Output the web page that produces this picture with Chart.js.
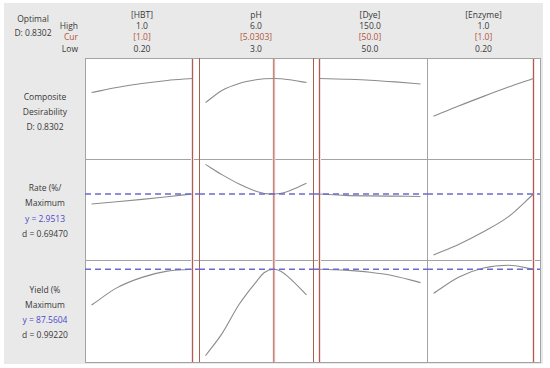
<!DOCTYPE html>
<html><head><meta charset="utf-8">
<script src="https://cdn.jsdelivr.net/npm/chart.js@4.4.1/dist/chart.umd.min.js"></script>
<style>
body{margin:0;width:550px;height:368px;background:#fff;position:relative;overflow:hidden;font-family:"Open Sans",sans-serif;font-size:8.5px;color:#3a3a3a}
.abs{position:absolute}
.t{position:absolute;white-space:nowrap;line-height:1}
.c{transform:translate(-50%,-50%)}
.r{transform:translate(-100%,-50%)}
canvas{position:absolute}
</style></head>
<body>
<div class="abs" style="left:4px;top:3px;width:539px;height:361px;background:#e9e9e9"></div>
<div class="abs" style="left:85px;top:58px;width:454px;height:303px;background:#fff;border:1px solid #a3a3a3"></div>
<div id="lines"></div>
<div id="txt"></div>
<div id="charts"></div>
<script>
// ---- header data ----
const factors = ['[HBT]', 'pH', '[Dye]', '[Enzyme]'];
const highLabels = ['1.0', '6.0', '150.0', '1.0'];
const curLabels = ['[1.0]', '[5.0303]', '[50.0]', '[1.0]'];
const lowLabels = ['0.20', '3.0', '50.0', '0.20'];
const highVals = [1.0, 6.0, 150.0, 1.0];
const lowVals = [0.20, 3.0, 50.0, 0.20];
const curVals = [1.0, 5.0303, 50.0, 1.0];

// ---- response summary ----
const compositeD = 0.8302;
const rateY = 2.9513, rateD = 0.69470;
const yieldY = 87.5604, yieldD = 0.99220;
const rowLabels = [
  ['Composite', 'Desirability', 'D: 0.8302'],
  ['Rate (%/', 'Maximum', 'y = 2.9513', 'd = 0.69470'],
  ['Yield (%', 'Maximum', 'y = 87.5604', 'd = 0.99220']
];

// ---- curve x positions (factor settings) ----
const hbtX = [0.2, 0.4, 0.6, 0.8, 1.0];
const phX = [3.0, 3.5, 4.0, 4.5, 4.75, 5.0303, 5.25, 5.5, 6.0];
const dyeX = [50, 75, 100, 125, 150];
const enzX = [0.2, 0.4, 0.6, 0.8, 1.0];

// ---- composite desirability ----
const compHBT = [0.674, 0.73, 0.775, 0.808, 0.8302];
const compPH = [0.563, 0.70, 0.775, 0.815, 0.826, 0.8302, 0.826, 0.815, 0.785];
const compDye = [0.8302, 0.822, 0.811, 0.792, 0.768];
const compEnz = [0.412, 0.525, 0.632, 0.735, 0.8302];

// ---- Rate ----
const rateHBT = [2.58, 2.66, 2.75, 2.85, 2.9513];
const ratePH = [4.05, 3.66, 3.32, 3.05, 2.97, 2.9513, 2.98, 3.07, 3.35];
const rateDye = [2.9513, 2.90, 2.88, 2.87, 2.86];
const rateEnz = [0.685, 1.08, 1.55, 2.11, 2.9513];

// ---- Yield ----
const yieldHBT = [69.2, 78.0, 83.4, 86.6, 87.5604];
const yieldPH = [43.2, 54.8, 69.6, 81.0, 85.9, 87.5604, 86.4, 83.0, 74.4];
const yieldDye = [87.5604, 87.1, 86.0, 84.0, 80.7];
const yieldEnz = [75.2, 83.5, 88.2, 89.6, 87.5604];

// ---- layout ----
const colX = [85, 199, 313, 427, 540];
const rowY = [59, 159, 260, 362];
const rowRange = [[-0.06, 1.045], [0.5, 4.25], [40, 92.3]];
const RED = '#a9604f', PINK = '#f7dfe2', CURVE = '#8c8c8c', DASH = '#6a6ad2';
const TXT = '#383838', CURC = '#b0563c', BLUE = '#4a4ac8';

const xs = [hbtX, phX, dyeX, enzX];
const rows = [
  {ys: [compHBT, compPH, compDye, compEnz], ref: null},
  {ys: [rateHBT, ratePH, rateDye, rateEnz], ref: rateY},
  {ys: [yieldHBT, yieldPH, yieldDye, yieldEnz], ref: yieldY}
];

function addText(s, x, y, cls, color){
  const d = document.createElement('div');
  d.className = 't ' + cls; d.textContent = s;
  d.style.left = x + 'px'; d.style.top = y + 'px';
  d.style.color = color || TXT;
  document.getElementById('txt').appendChild(d);
}
function vline(x, y0, y1, color){
  const d = document.createElement('div');
  d.className = 'abs';
  d.style.cssText = `left:${x}px;top:${y0}px;width:1px;height:${y1-y0}px;background:${color}`;
  document.getElementById('lines').appendChild(d);
}
function hline(x0, x1, y, color){
  const d = document.createElement('div');
  d.className = 'abs';
  d.style.cssText = `left:${x0}px;top:${y}px;width:${x1-x0}px;height:1px;background:${color}`;
  document.getElementById('lines').appendChild(d);
}
// grid separators
hline(85, 540, 159, '#a3a3a3');
hline(85, 540, 260, '#a3a3a3');
vline(199, 58, 362, RED);
vline(313, 58, 362, RED);
vline(427, 58, 362, '#a3a3a3');

// header text
addText('Optimal', 33, 19, 'c');
addText('D: 0.8302', 33, 33, 'c');
addText('High', 78, 26, 'r');
addText('Cur', 78, 37, 'r', CURC);
addText('Low', 78, 48.5, 'r');
factors.forEach((f, i) => {
  const cx = (colX[i] + colX[i+1]) / 2;
  addText(f, cx, 15, 'c');
  addText(highLabels[i], cx, 26, 'c');
  addText(curLabels[i], cx, 37, 'c', CURC);
  addText(lowLabels[i], cx, 48.5, 'c');
});
// row labels
const rowTextY = [[97, 112, 126.5], [188, 203, 219, 234], [290, 305, 320, 335]];
rowLabels.forEach((lbls, r) => {
  lbls.forEach((s, k) => addText(s, 45, rowTextY[r][k], 'c', s.startsWith('y =') ? BLUE : TXT));
});

// panels
const holder = document.getElementById('charts');
rows.forEach((row, r) => {
  for (let c = 0; c < 4; c++) {
    const w = colX[c+1] - colX[c], h = rowY[r+1] - rowY[r];
    const cv = document.createElement('canvas');
    cv.width = w; cv.height = h;
    cv.style.left = colX[c] + 'px'; cv.style.top = rowY[r] + 'px';
    cv.style.width = w + 'px'; cv.style.height = h + 'px';
    holder.appendChild(cv);
    const lo = lowVals[c], hi = highVals[c];
    const k = (hi - lo) / (w - 13);
    const xmin = lo - 6.5 * k, xmax = hi + 6.5 * k;
    const [ymin, ymax] = rowRange[r];
    const datasets = [];
    datasets.push({data: xs[c].map((x, i) => ({x, y: row.ys[c][i]})), borderColor: CURVE, borderWidth: 1.1,
      pointRadius: 0, cubicInterpolationMode: 'monotone', fill: false, order: 2});
    if (row.ref !== null) {
      datasets.push({data: [{x: xmin, y: row.ref}, {x: xmax, y: row.ref}], borderColor: DASH, borderWidth: 1.5,
        borderDash: [6, 4], pointRadius: 0, fill: false, order: 1});
    }
    datasets.push({data: [{x: curVals[c], y: ymin}, {x: curVals[c], y: ymax}], borderColor: PINK, borderWidth: 3, pointRadius: 0, order: 4});
    datasets.push({data: [{x: curVals[c], y: ymin}, {x: curVals[c], y: ymax}], borderColor: RED, borderWidth: 1, pointRadius: 0, order: 3});
    new Chart(cv, {
      type: 'line',
      data: {datasets},
      options: {
        responsive: false, animation: false, events: [],
        layout: {padding: 0},
        plugins: {legend: {display: false}, tooltip: {enabled: false}},
        scales: {
          x: {type: 'linear', min: xmin, max: xmax, display: false},
          y: {type: 'linear', min: ymin, max: ymax, display: false}
        }
      }
    });
  }
});
</script>
</body></html>
